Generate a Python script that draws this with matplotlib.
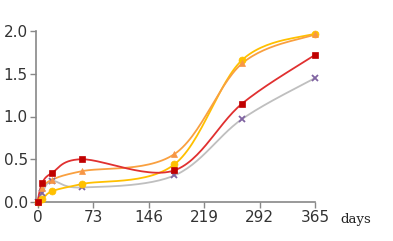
import numpy as np
import matplotlib
matplotlib.use("Agg")
import matplotlib.pyplot as plt

# Data
days = [0, 6, 19, 58, 180, 269, 365]
red_series = [0.0, 0.22, 0.34, 0.50, 0.37, 1.15, 1.72]
orange_series = [0.0, 0.16, 0.26, 0.36, 0.56, 1.62, 1.96]
yellow_series = [0.0, 0.03, 0.125, 0.21, 0.44, 1.66, 1.97]
gray_series = [0.0, 0.10, 0.245, 0.17, 0.31, 0.97, 1.45]

x_ticks = [0, 73, 146, 219, 292, 365]
y_ticks = [0.0, 0.5, 1.0, 1.5, 2.0]


def smooth(xs, ys, n=30):
    # Catmull-Rom style smoothing, similar to spreadsheet "smoothed line"
    xs = np.asarray(xs, float)
    ys = np.asarray(ys, float)
    px = np.concatenate([[xs[0]], xs, [xs[-1]]])
    py = np.concatenate([[ys[0]], ys, [ys[-1]]])
    out_x, out_y = [], []
    t = np.linspace(0, 1, n)
    for i in range(1, len(px) - 2):
        p0, p1, p2, p3 = px[i - 1], px[i], px[i + 1], px[i + 2]
        q0, q1, q2, q3 = py[i - 1], py[i], py[i + 1], py[i + 2]
        c1x, c1y = p1 + (p2 - p0) / 6, q1 + (q2 - q0) / 6
        c2x, c2y = p2 - (p3 - p1) / 6, q2 - (q3 - q1) / 6
        bx = (1 - t) ** 3 * p1 + 3 * (1 - t) ** 2 * t * c1x + 3 * (1 - t) * t ** 2 * c2x + t ** 3 * p2
        by = (1 - t) ** 3 * q1 + 3 * (1 - t) ** 2 * t * c1y + 3 * (1 - t) * t ** 2 * c2y + t ** 3 * q2
        out_x.extend(bx)
        out_y.extend(by)
    return out_x, out_y


fig = plt.figure(figsize=(3.93, 2.41), dpi=100)
ax = fig.add_axes([36 / 393, 39 / 241, 279 / 393, 171 / 241])

series = [
    (gray_series, "#bfbfbf", "#8064a2", "x", 5),
    (yellow_series, "#ffc000", "#ffc000", "o", 5),
    (orange_series, "#f9a040", "#f79646", "^", 5),
    (red_series, "#e03030", "#c00000", "s", 5),
]
for vals, lc, mc, mk, ms in series:
    sx, sy = smooth(days, vals)
    ax.plot(sx, sy, color=lc, lw=1.3, clip_on=False, zorder=2)
    ax.plot(days, vals, ls="none", marker=mk, color=mc, ms=ms,
            mew=1.3 if mk == "x" else 0.5, clip_on=False, zorder=3)

ax.set_xlim(-2, 365)
ax.set_ylim(0, 2.0)
ax.set_xticks(x_ticks)
ax.set_yticks(y_ticks)
ax.set_xticklabels([str(v) for v in x_ticks])
ax.set_yticklabels([f"{v:.1f}" for v in y_ticks])

for side in ["top", "right"]:
    ax.spines[side].set_visible(False)
for side in ["left", "bottom"]:
    ax.spines[side].set_color("#888888")
    ax.spines[side].set_linewidth(1.2)
ax.tick_params(axis="both", colors="#888888", length=4, width=1, labelsize=11,
               labelcolor="#333333", pad=2)

ax.text(1.09, -0.1, "days", transform=ax.transAxes, fontsize=9.5,
        family="DejaVu Serif", color="#222222", ha="left", va="center")

fig.savefig("out.png", dpi=100)
